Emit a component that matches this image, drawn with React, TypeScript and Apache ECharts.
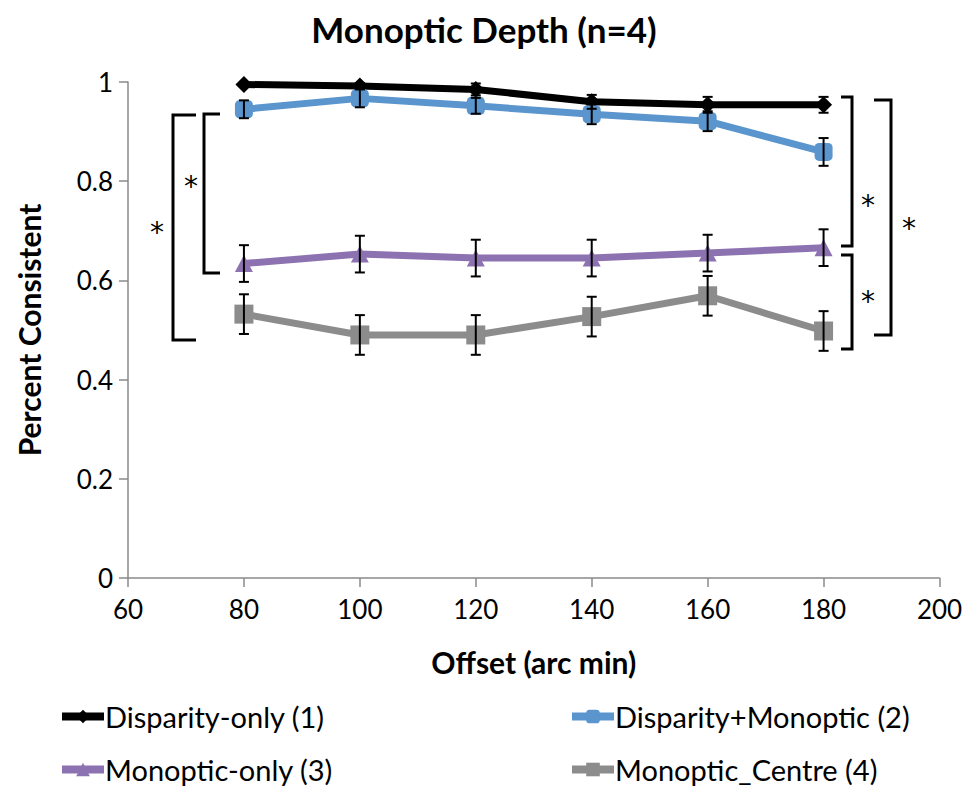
import React, { useEffect, useRef } from "react";
import * as echarts from "echarts";

// Offsets (arc min) on the x axis
const offsets = [80, 100, 120, 140, 160, 180];

// Mean proportion of consistent responses per condition
const disparityOnly = [0.995, 0.992, 0.985, 0.96, 0.954, 0.954];
const disparityMonoptic = [0.945, 0.967, 0.952, 0.935, 0.921, 0.859];
const monopticOnly = [0.634, 0.653, 0.645, 0.645, 0.655, 0.666];
const monopticCentre = [0.532, 0.49, 0.49, 0.527, 0.569, 0.498];

// Standard errors
const disparityOnlyErr = [0.004, 0.006, 0.012, 0.014, 0.016, 0.016];
const disparityMonopticErr = [0.018, 0.018, 0.016, 0.02, 0.02, 0.028];
const monopticOnlyErr = [0.037, 0.037, 0.037, 0.037, 0.037, 0.037];
const monopticCentreErr = [0.04, 0.04, 0.04, 0.04, 0.04, 0.04];

const seriesNames = [
  "Disparity-only (1)",
  "Disparity+Monoptic (2)",
  "Monoptic-only (3)",
  "Monoptic_Centre (4)",
];

const yTicks = [0, 0.2, 0.4, 0.6, 0.8, 1];
const xTicks = [60, 80, 100, 120, 140, 160, 180, 200];

const FONT = "Lato";

export default function App() {
  const ref = useRef<HTMLDivElement>(null);

  useEffect(() => {
    document.body.style.margin = "0";
    if (!ref.current) return;
    const chart = echarts.init(ref.current, null, { renderer: "svg" });

    const means = [disparityOnly, disparityMonoptic, monopticOnly, monopticCentre];
    const errs = [disparityOnlyErr, disparityMonopticErr, monopticOnlyErr, monopticCentreErr];
    const colors = ["#000000", "#5b95cd", "#8d72b1", "#8c8c8c"];
    const symbols = ["diamond", "roundRect", "triangle", "rect"];
    const symbolSizes = [[17, 17], [18, 18], [18, 17], [19, 19]];

    const lineSeries = means.map((m, i) => ({
      name: seriesNames[i],
      type: "line",
      data: offsets.map((x, j) => [x, m[j]]),
      symbol: symbols[i],
      symbolSize: symbolSizes[i],
      showAllSymbol: true,
      lineStyle: { color: colors[i], width: 7 },
      itemStyle: { color: colors[i] },
      z: 3,
    }));

    const errorData: number[][] = [];
    means.forEach((m, i) => {
      offsets.forEach((x, j) => {
        errorData.push([x, m[j] - errs[i][j], m[j] + errs[i][j]]);
      });
    });

    const errorSeries = {
      type: "custom",
      name: "error",
      data: errorData,
      encode: { x: 0, y: [1, 2] },
      z: 10,
      silent: true,
      renderItem: (_params: any, api: any) => {
        const x = api.value(0);
        const lo = api.coord([x, api.value(1)]);
        const hi = api.coord([x, api.value(2)]);
        const hw = 5;
        const style = { stroke: "#000", lineWidth: 2 };
        return {
          type: "group",
          children: [
            { type: "line", shape: { x1: lo[0], y1: lo[1], x2: hi[0], y2: hi[1] }, style },
            { type: "line", shape: { x1: lo[0] - hw, y1: lo[1], x2: lo[0] + hw, y2: lo[1] }, style },
            { type: "line", shape: { x1: hi[0] - hw, y1: hi[1], x2: hi[0] + hw, y2: hi[1] }, style },
          ],
        };
      },
    };

    const legendPos = [
      { left: 58, top: 702 },
      { left: 568, top: 702 },
      { left: 58, top: 755 },
      { left: 568, top: 755 },
    ];
    const legends = seriesNames.map((n, i) => ({
      data: [n],
      left: legendPos[i].left,
      top: legendPos[i].top,
      padding: 0,
      itemWidth: 42,
      itemHeight: 17,
      lineStyle: { width: 8 },
      textStyle: { fontFamily: FONT, fontSize: 29, color: "#000", padding: [0, 0, 0, -4] },
      selectedMode: false,
    }));

    // significance brackets
    const bracket = (xv: number, xArm: number, y1: number, y2: number) => ({
      type: "polyline",
      shape: { points: [[xArm, y1], [xv, y1], [xv, y2], [xArm, y2]] },
      style: { stroke: "#000", lineWidth: 3, fill: null },
      z: 20,
    });
    const star = (x: number, y: number) => ({
      type: "text",
      x,
      y,
      style: {
        text: "*",
        fontFamily: "DejaVu Sans",
        fontSize: 28,
        fill: "#000",
        align: "center",
        verticalAlign: "middle",
      },
      z: 20,
    });

    chart.setOption({
      animation: false,
      title: {
        text: "Monoptic Depth (n=4)",
        left: "center",
        top: 6,
        textStyle: { fontFamily: FONT, fontSize: 35, fontWeight: "bold", color: "#000" },
      },
      grid: { left: 128, right: 28.5, top: 82, bottom: 209, containLabel: false },
      legend: legends,
      xAxis: {
        type: "value",
        min: xTicks[0],
        max: xTicks[xTicks.length - 1],
        interval: 20,
        name: "Offset (arc min)",
        nameLocation: "middle",
        nameGap: 69,
        nameTextStyle: { fontFamily: FONT, fontSize: 30, fontWeight: "bold", color: "#000" },
        axisLine: { show: true, lineStyle: { color: "#8a8a8a", width: 1.5 } },
        axisTick: { show: true, length: 9, lineStyle: { color: "#8a8a8a", width: 1.5 } },
        axisLabel: { fontFamily: FONT, fontSize: 26, color: "#000", margin: 18 },
        splitLine: { show: false },
      },
      yAxis: {
        type: "value",
        min: yTicks[0],
        max: yTicks[yTicks.length - 1],
        interval: 0.2,
        name: "Percent Consistent",
        nameLocation: "middle",
        nameGap: 84,
        nameTextStyle: { fontFamily: FONT, fontSize: 30, fontWeight: "bold", color: "#000" },
        axisLine: { show: true, lineStyle: { color: "#8a8a8a", width: 1.5 } },
        axisTick: { show: true, length: 9, lineStyle: { color: "#8a8a8a", width: 1.5 } },
        axisLabel: { fontFamily: FONT, fontSize: 26, color: "#000", margin: 15 },
        splitLine: { show: false },
      },
      series: [...lineSeries, errorSeries],
      graphic: [
        bracket(173, 196, 115, 340),
        bracket(204, 220, 114, 273),
        bracket(852, 841, 97, 246),
        bracket(852, 841, 255, 349),
        bracket(891, 874, 100, 335),
        star(157, 232),
        star(191, 186),
        star(868, 205),
        star(868, 301),
        star(909, 228),
      ],
    });

    return () => chart.dispose();
  }, []);

  return <div ref={ref} style={{ width: 968, height: 787 }} />;
}
